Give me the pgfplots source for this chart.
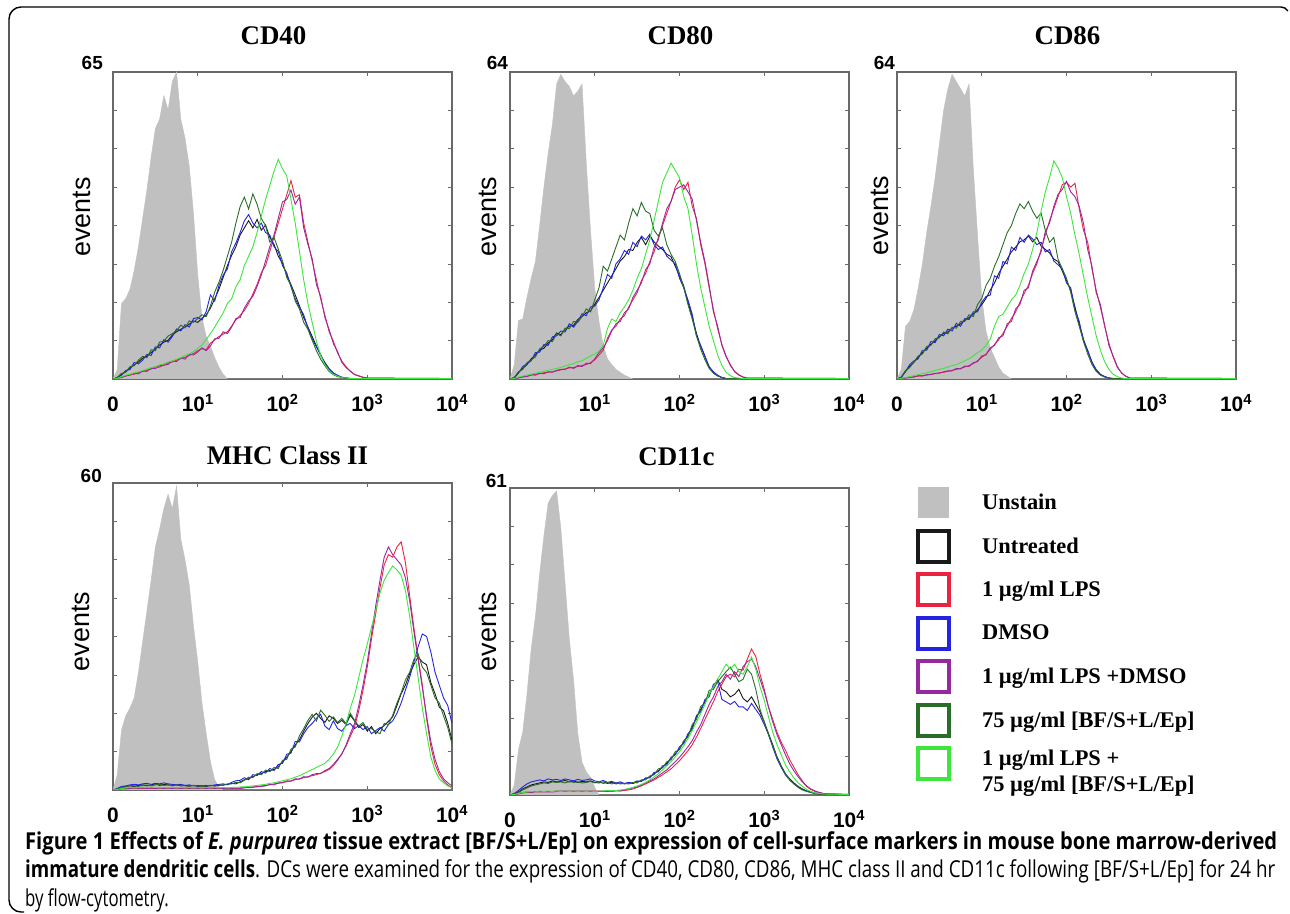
\documentclass[border=0pt]{standalone}
\usepackage{fontspec}
\usepackage{graphicx}
\usepackage{pgfplots}
\usepackage{pgfplotstable}
\pgfplotsset{compat=1.18}
\usetikzlibrary{calc}
\setmainfont{Liberation Sans}
\newfontfamily\lserif{Liberation Serif}
\newfontfamily\capfont{Open Sans}[FakeStretch=0.72]

\definecolor{unst}{RGB}{192,192,192}
\definecolor{boxgray}{RGB}{105,105,105}
\definecolor{cK}{RGB}{25,25,25}
\definecolor{cR}{RGB}{235,35,65}
\definecolor{cB}{RGB}{35,35,225}
\definecolor{cP}{RGB}{150,40,160}
\definecolor{cG}{RGB}{40,110,40}
\definecolor{cL}{RGB}{60,230,60}

\newcommand\titfont{\lserif\bfseries\fontsize{27}{30}\selectfont}
\newcommand\ticfont{\bfseries\fontsize{21}{24}\selectfont}
\newcommand\maxfont{\bfseries\fontsize{19}{22}\selectfont}
\newcommand\evfont{\fontsize{27}{30}\selectfont}
\newcommand\legfont{\lserif\bfseries\fontsize{22.5}{26}\selectfont}

% histogram counts per channel (x = decades of fluorescence, 0..4)
\pgfplotstableread{
x U K R B P G L
0.00 0 0 0 0 0 0 0
0.05 2 0.3 0.1 0.2 0.2 0.3 0.1
0.10 16 1.0 0.4 0.8 0.3 1.2 0.5
0.15 17 1.5 0.6 1.8 0.7 1.4 0.8
0.20 19 2.4 0.9 2.0 0.8 2.6 1.0
0.25 23 3.0 1.0 3.5 1.2 2.8 1.3
0.30 28 3.6 1.4 3.2 1.1 4.0 1.5
0.35 34 4.4 1.6 4.0 1.7 4.8 1.8
0.40 40 4.8 1.9 5.2 1.6 4.5 2.1
0.45 47 5.6 2.1 5.0 2.3 6.2 2.4
0.50 53 6.3 2.6 6.8 2.2 6.0 2.6
0.55 55 7.2 2.5 6.6 2.8 7.8 3.0
0.60 60 7.8 3.0 8.3 2.9 8.0 3.2
0.65 57 8.2 3.4 7.8 3.1 9.1 3.6
0.70 63 9.3 3.6 9.0 3.8 9.6 3.8
0.75 65 10.0 4.0 10.6 3.7 10.2 4.2
0.80 55 10.5 4.3 10.2 4.5 11.4 4.5
0.85 51 11.0 4.6 11.5 4.2 10.8 5.0
0.90 45 11.6 5.0 11.0 5.2 12.3 5.3
0.95 35 12.3 5.4 12.8 5.1 12.0 5.8
1.00 22 12.0 6.0 13.0 5.7 12.8 6.5
1.05 13 12.8 6.4 12.5 6.6 13.6 7.2
1.10 9 13.6 6.2 14.3 6.0 13.2 8.4
1.15 7 15.0 7.6 17.8 7.0 15.5 9.6
1.20 4.5 17.0 8.3 16.5 8.5 18.4 11.0
1.25 2.5 19.0 9.0 19.8 8.6 20.5 12.5
1.30 1 21.5 9.5 22.0 10.0 23.0 14.0
1.35 0 24.0 10.0 23.3 9.6 26.0 16.0
1.40 0 26.2 11.2 27.0 11.0 29.0 17.0
1.45 0 28.0 12.5 28.8 12.8 33.0 19.5
1.50 0 30.5 13.5 31.0 13.0 36.5 21.0
1.55 0 32.0 14.5 33.5 15.0 38.5 24.0
1.60 0 33.5 16.0 34.8 16.5 36.0 26.0
1.65 0 32.0 18.0 33.0 17.5 39.2 28.0
1.70 0 33.8 20.0 32.0 19.6 37.0 31.0
1.75 0 31.5 22.5 33.0 22.0 34.0 34.5
1.80 0 32.6 24.0 31.0 25.0 32.5 38.0
1.85 0 30.0 27.0 30.5 28.0 29.0 41.0
1.90 0 28.5 30.0 28.0 30.5 30.0 44.0
1.95 0 26.0 33.0 27.0 34.0 27.5 46.5
2.00 0 24.5 36.0 24.0 37.5 25.0 44.5
2.05 0 22.0 39.0 22.5 38.0 21.5 43.0
2.10 0 20.0 42.0 19.5 40.0 19.8 38.0
2.15 0 17.8 38.5 17.0 37.0 16.5 33.0
2.20 0 15.5 39.0 15.2 38.5 14.8 27.0
2.25 0 13.0 33.0 13.6 32.0 12.0 21.0
2.30 0 11.0 29.0 10.8 28.5 10.5 16.0
2.35 0 9.0 25.0 8.5 25.5 8.2 12.0
2.40 0 7.0 21.0 6.8 20.0 6.0 8.0
2.45 0 5.0 17.0 5.2 17.5 4.2 5.0
2.50 0 3.5 13.5 3.2 13.0 2.8 3.0
2.55 0 2.2 10.0 2.0 10.5 1.6 1.8
2.60 0 1.3 8.0 1.2 7.5 0.9 1.0
2.65 0 0.7 5.5 0.8 5.8 0.5 0.6
2.70 0 0.4 3.8 0.3 3.5 0.3 0.3
2.75 0 0.2 2.6 0.2 2.4 0.2 0.2
2.80 0 0.1 1.6 0.1 1.7 0.1 0.1
2.85 0 0.1 1.0 0.1 0.9 0.1 0.1
2.90 0 0.1 0.6 0.1 0.7 0.1 0.1
2.95 0 0.1 0.4 0.1 0.3 0.1 0.1
3.00 0 0.1 0.2 0.1 0.2 0.1 0.1
4.00 0 0.1 0.1 0.1 0.1 0.1 0.1
}\tabCDforty

\pgfplotstableread{
x U K B G R P L
0.00 0 0 0 0 0 0 0
0.05 3 0.3 0.2 0.3 0.1 0.1 0.1
0.10 12.2 1.4 1.2 1.5 0.3 0.2 0.4
0.15 12.5 2.2 2.6 2.0 0.4 0.5 0.6
0.20 17 3.0 3.2 3.4 0.6 0.5 0.8
0.25 21 4.2 3.8 4.0 0.8 0.9 1.0
0.30 24.5 5.0 5.5 4.6 1.0 0.8 1.2
0.35 32 6.0 5.6 6.3 1.1 1.2 1.4
0.40 40 6.4 7.2 6.8 1.3 1.1 1.6
0.45 47 7.5 7.0 8.0 1.4 1.5 1.8
0.50 53 8.2 8.8 7.8 1.5 1.4 2.0
0.55 61.5 9.6 9.0 9.4 1.7 1.8 2.2
0.60 63.5 9.2 10.0 9.0 1.9 2.0 2.4
0.65 62 10.4 9.8 10.6 2.1 2.0 2.7
0.70 61 11.0 11.5 10.5 2.3 2.5 3.0
0.75 59 11.2 10.8 12.0 2.4 2.2 3.2
0.80 60 12.4 12.0 11.8 2.6 2.8 3.6
0.85 61.5 13.0 13.6 13.0 2.8 2.6 3.8
0.90 45 13.8 13.2 14.6 3.0 3.3 4.3
0.95 31 14.2 15.0 14.0 3.4 3.2 4.8
1.00 19 15.6 15.2 16.5 4.0 4.2 5.2
1.05 12 17.0 16.5 19.0 5.0 5.5 5.8
1.10 6.9 18.5 19.0 23.5 6.0 6.5 7.0
1.15 4.2 20.0 21.8 22.5 8.5 8.0 10.5
1.20 3 21.5 21.0 25.0 10.2 10.0 12.5
1.25 2 23.0 24.0 27.5 11.0 11.5 12.0
1.30 1.4 24.6 25.0 30.0 12.5 12.0 13.8
1.35 0.8 25.5 26.8 29.0 13.2 13.8 15.0
1.40 0.4 27.0 26.0 32.5 15.0 14.6 16.5
1.45 0 26.8 28.5 35.5 16.5 17.0 18.5
1.50 0 28.5 27.6 34.0 18.0 18.5 21.0
1.55 0 29.5 29.8 36.8 20.5 20.0 23.0
1.60 0 28.0 29.0 35.0 22.0 22.8 26.0
1.65 0 29.8 30.2 34.5 24.5 24.0 29.0
1.70 0 28.6 28.0 31.0 26.5 27.5 33.0
1.75 0 27.7 27.0 29.8 29.5 29.0 37.0
1.80 0 27.0 27.5 31.5 32.0 32.5 41.0
1.85 0 26.0 25.6 28.0 34.5 35.5 43.0
1.90 0 25.5 24.8 26.0 37.0 37.0 45.0
1.95 0 23.5 24.0 24.5 40.0 39.5 43.5
2.00 0 21.5 21.0 22.0 41.5 40.0 42.0
2.05 0 19.4 19.0 19.0 39.5 40.5 38.0
2.10 0 16.0 16.5 15.5 41.0 39.0 35.5
2.15 0 13.0 13.5 12.5 36.0 37.5 30.0
2.20 0 9.5 9.0 9.0 33.5 33.0 24.0
2.25 0 6.8 7.0 6.2 28.0 28.5 19.0
2.30 0 4.6 4.8 4.0 24.0 24.5 15.0
2.35 0 2.6 2.4 2.2 19.0 19.5 11.0
2.40 0 1.4 1.5 1.2 14.5 14.0 8.0
2.45 0 0.7 0.8 0.6 10.5 11.0 5.0
2.50 0 0.3 0.3 0.3 7.2 7.0 2.8
2.55 0 0.1 0.1 0.1 4.8 4.6 1.4
2.60 0 0.1 0.1 0.1 2.8 3.0 0.7
2.65 0 0.1 0.1 0.1 1.6 1.5 0.3
2.70 0 0.1 0.1 0.1 0.9 0.8 0.2
2.75 0 0.1 0.1 0.1 0.4 0.4 0.1
2.80 0 0.1 0.1 0.1 0.2 0.2 0.1
4.00 0 0.1 0.1 0.1 0.1 0.1 0.1
}\tabCDeighty

\pgfplotstableread{
x U K B G R P L
0.00 0 0 0 0 0 0 0
0.05 2 0.4 0.3 0.4 0.1 0.1 0.1
0.10 11 1.7 1.5 1.6 0.2 0.2 0.3
0.15 12 2.6 3.0 2.4 0.3 0.4 0.5
0.20 14.5 3.5 3.8 3.6 0.5 0.4 0.7
0.25 19 4.5 4.2 4.8 0.6 0.7 0.9
0.30 24 5.5 6.0 5.2 0.7 0.6 1.1
0.35 30.5 6.4 6.0 6.8 0.8 0.9 1.3
0.40 36 7.2 7.8 7.0 1.0 0.9 1.5
0.45 42 8.0 7.6 8.4 1.1 1.2 1.8
0.50 49 8.8 9.3 8.6 1.3 1.2 2.0
0.55 56 9.5 9.0 9.8 1.4 1.5 2.2
0.60 60.5 9.8 10.4 9.4 1.6 1.7 2.5
0.65 63.5 10.6 10.0 10.8 1.8 1.7 2.8
0.70 62 11.0 11.6 10.6 2.0 2.2 3.0
0.75 60.5 11.5 11.0 12.0 2.2 2.1 3.4
0.80 59 12.2 12.6 12.0 2.5 2.7 3.8
0.85 61.5 12.8 12.4 13.4 2.8 2.6 4.2
0.90 44 13.5 14.0 13.0 3.2 3.4 4.8
0.95 30 14.4 14.0 15.5 3.8 3.6 5.5
1.00 17 15.5 16.0 16.8 4.5 4.8 6.0
1.05 10 16.8 17.2 19.5 5.2 5.0 7.0
1.10 6.5 18.5 17.5 21.0 6.2 6.5 8.3
1.15 4.5 20.0 21.5 23.5 7.2 7.0 11.0
1.20 2.5 22.0 21.0 25.5 8.2 8.6 13.0
1.25 1.2 23.5 24.5 28.0 9.5 9.0 13.5
1.30 0.6 25.0 24.0 30.5 11.0 11.5 15.0
1.35 0 26.5 27.5 32.0 12.6 12.0 16.5
1.40 0 27.5 26.8 34.5 14.0 14.6 17.5
1.45 0 28.6 29.5 36.5 16.0 15.5 19.5
1.50 0 29.0 28.5 35.5 17.8 18.5 22.0
1.55 0 29.8 30.0 37.0 19.5 19.0 24.0
1.60 0 28.6 29.2 35.0 22.0 22.5 27.0
1.65 0 29.5 28.0 33.5 24.0 24.5 30.5
1.70 0 27.7 28.5 34.6 27.0 26.5 35.0
1.75 0 27.0 26.5 31.0 30.0 30.8 39.0
1.80 0 26.3 27.0 28.5 33.0 32.5 42.0
1.85 0 25.0 24.6 29.5 35.5 36.0 45.5
1.90 0 24.5 23.8 25.0 38.0 38.5 44.0
1.95 0 22.5 23.0 23.0 40.5 39.5 42.0
2.00 0 20.5 20.0 21.0 41.0 41.2 38.0
2.05 0 18.5 19.0 18.0 40.0 39.0 34.5
2.10 0 15.0 14.5 14.0 40.8 38.0 30.0
2.15 0 11.5 12.0 11.0 35.5 36.0 26.0
2.20 0 8.3 8.0 7.8 31.0 32.5 21.5
2.25 0 5.8 6.0 5.2 28.5 27.0 17.0
2.30 0 3.6 3.4 3.0 23.0 23.5 13.0
2.35 0 1.8 2.0 1.6 18.5 18.0 9.0
2.40 0 0.9 1.0 0.8 15.0 15.5 6.0
2.45 0 0.5 0.5 0.4 11.0 11.2 3.6
2.50 0 0.2 0.2 0.2 7.5 7.0 2.0
2.55 0 0.1 0.1 0.1 4.6 4.8 1.0
2.60 0 0.1 0.1 0.1 2.4 2.6 0.5
2.65 0 0.1 0.1 0.1 1.3 1.2 0.2
2.70 0 0.1 0.1 0.1 0.5 0.6 0.1
2.75 0 0.1 0.1 0.1 0.2 0.2 0.1
4.00 0 0.1 0.1 0.1 0.1 0.1 0.1
}\tabCDeightysix

\pgfplotstableread{
x U K B G R P L
0.00 0 0 0 0 0 0 0
0.05 3 0.2 0.3 0.2 0.1 0.1 0.1
0.10 11.7 0.5 0.7 0.5 0.2 0.3 0.3
0.15 14.5 0.7 0.8 0.6 0.3 0.2 0.4
0.20 16 0.8 1.0 0.9 0.4 0.3 0.5
0.25 18 0.7 1.1 0.8 0.3 0.4 0.4
0.30 23 0.9 1.0 0.7 0.4 0.3 0.5
0.35 29 1.0 1.2 0.9 0.3 0.4 0.6
0.40 35 0.8 1.3 1.0 0.4 0.3 0.5
0.45 41 1.0 1.1 0.8 0.3 0.4 0.6
0.50 47.5 1.2 1.3 1.0 0.4 0.3 0.5
0.55 51 0.9 1.2 1.1 0.3 0.4 0.4
0.60 55 1.1 1.4 0.9 0.4 0.3 0.5
0.65 57.8 1.0 1.2 1.0 0.3 0.4 0.4
0.70 55 0.9 1.1 0.8 0.4 0.3 0.5
0.75 59.4 1.0 1.0 1.0 0.3 0.4 0.4
0.80 49 0.8 1.1 0.9 0.4 0.3 0.5
0.85 45 0.9 0.9 0.8 0.3 0.4 0.4
0.90 40 0.8 1.0 0.7 0.4 0.3 0.5
0.95 32 0.9 0.8 0.9 0.3 0.4 0.4
1.00 25 0.7 0.9 0.8 0.4 0.3 0.5
1.05 17 0.8 0.8 0.7 0.3 0.4 0.4
1.10 11 0.7 0.9 0.8 0.4 0.3 0.5
1.15 5.5 0.9 0.8 0.9 0.3 0.4 0.4
1.20 2 0.8 1.0 0.8 0.4 0.3 0.5
1.25 0.6 0.9 1.1 1.0 0.3 0.4 0.4
1.30 0 1.0 1.2 0.9 0.4 0.3 0.5
1.35 0 1.1 1.0 1.2 0.3 0.4 0.4
1.40 0 1.3 1.5 1.2 0.4 0.3 0.5
1.45 0 1.2 1.8 1.5 0.3 0.4 0.5
1.50 0 1.6 1.9 1.4 0.4 0.3 0.6
1.55 0 2.0 2.4 1.9 0.5 0.4 0.6
1.60 0 2.2 2.0 2.5 0.6 0.5 0.7
1.65 0 2.6 3.0 2.4 0.5 0.6 0.8
1.70 0 3.0 2.8 3.2 0.7 0.6 0.9
1.75 0 3.2 3.6 3.0 0.8 0.7 1.0
1.80 0 3.6 3.3 3.9 0.9 0.8 1.1
1.85 0 3.8 4.2 3.6 1.0 1.1 1.3
1.90 0 4.0 3.8 4.4 1.2 1.0 1.4
1.95 0 4.6 5.0 4.2 1.3 1.4 1.6
2.00 0 5.5 5.2 5.8 1.5 1.4 1.8
2.05 0 6.4 7.0 6.0 1.6 1.8 2.0
2.10 0 7.5 7.2 8.0 1.8 1.7 2.2
2.15 0 8.8 9.5 8.4 2.0 2.2 2.5
2.20 0 9.8 9.4 10.6 2.2 2.1 2.8
2.25 0 11.5 11.0 12.0 2.4 2.6 3.2
2.30 0 13.0 12.2 13.6 2.6 2.5 3.6
2.35 0 14.2 13.0 14.8 2.8 3.0 4.0
2.40 0 15.0 14.0 13.5 3.0 3.2 4.4
2.45 0 14.0 14.8 15.6 3.3 3.2 4.8
2.50 0 13.2 12.5 14.6 3.6 3.8 5.2
2.55 0 14.5 11.8 13.4 4.0 4.2 6.0
2.60 0 14.0 13.5 14.3 4.8 5.0 7.0
2.65 0 13.0 12.0 13.2 5.8 6.0 8.4
2.70 0 13.6 11.5 14.0 7.1 7.0 10.5
2.75 0 12.8 12.6 13.0 8.6 8.8 13.0
2.80 0 14.6 13.0 15.0 10.5 11.0 16.0
2.85 0 13.5 12.0 13.6 12.3 13.0 18.5
2.90 0 12.2 12.6 12.5 15.5 16.5 22.0
2.95 0 12.8 11.8 13.2 19.5 20.5 25.5
3.00 0 11.5 12.4 11.8 24.0 25.0 28.5
3.05 0 12.4 11.0 12.0 29.5 30.5 31.8
3.10 0 11.0 11.6 11.4 34.5 36.0 35.0
3.15 0 12.0 12.2 11.0 39.5 41.0 38.5
3.20 0 12.6 11.5 13.0 44.0 45.5 41.0
3.25 0 13.4 12.8 12.8 46.0 47.5 42.5
3.30 0 14.3 13.5 14.6 45.5 46.0 43.8
3.35 0 16.5 15.0 17.0 47.5 45.0 43.0
3.40 0 18.8 17.0 19.0 48.5 44.0 42.0
3.45 0 20.5 19.5 21.5 44.5 41.5 39.0
3.50 0 22.7 22.0 23.0 38.0 37.0 34.0
3.55 0 24.5 25.0 25.5 31.8 31.0 27.9
3.60 0 26.0 28.0 26.6 26.0 25.5 22.0
3.65 0 25.0 30.5 24.0 20.5 20.0 16.0
3.70 0 24.5 30.0 23.0 14.0 14.5 11.0
3.75 0 21.0 27.0 20.5 8.5 9.5 6.5
3.80 0 18.8 23.0 18.0 5.0 6.0 3.8
3.85 0 16.2 20.5 17.0 3.0 3.6 2.2
3.90 0 15.5 18.0 14.5 1.8 2.2 1.4
3.95 0 13.0 16.5 12.2 1.0 1.4 0.8
4.00 0 9.7 13.0 9.0 0.4 0.8 0.4
}\tabMHC

\pgfplotstableread{
x U K B G R P L
0.00 0 0 0 0 0 0 0
0.05 2 0.2 0.3 0.2 0.1 0.1 0.1
0.10 9 0.6 0.9 0.5 0.2 0.3 0.3
0.15 12.5 1.2 1.6 1.0 0.4 0.5 0.5
0.20 20 1.6 2.2 1.4 0.5 0.6 0.6
0.25 29 2.0 2.6 1.8 0.6 0.5 0.7
0.30 35.5 2.2 2.8 2.0 0.7 0.6 0.6
0.35 44 2.4 3.0 2.2 0.6 0.7 0.8
0.40 51.5 2.6 2.8 2.4 0.7 0.6 0.7
0.45 58 2.5 3.2 2.3 0.6 0.7 0.8
0.50 59.5 2.8 3.0 2.6 0.7 0.6 0.7
0.55 60.4 2.6 3.1 2.5 0.8 0.7 0.8
0.60 53 2.7 2.9 2.6 0.7 0.8 0.7
0.65 42 2.9 3.2 2.4 0.8 0.7 0.8
0.70 31 2.6 3.0 2.7 0.7 0.8 0.7
0.75 22.8 2.8 2.8 2.5 0.8 0.7 0.8
0.80 12.2 2.5 3.1 2.6 0.7 0.8 0.7
0.85 6.5 2.7 2.9 2.4 0.8 0.7 0.8
0.90 4.6 2.6 3.0 2.5 0.7 0.8 0.7
0.95 3.5 2.8 3.2 2.7 0.8 0.7 0.8
1.00 1.5 2.5 2.8 2.4 0.7 0.8 0.7
1.05 0 2.4 2.6 2.6 0.8 0.7 0.8
1.10 0 2.6 2.9 2.3 0.7 0.8 0.8
1.15 0 2.3 2.5 2.5 0.8 0.7 0.9
1.20 0 2.5 2.7 2.2 0.7 0.8 0.8
1.25 0 2.2 2.4 2.4 0.8 0.9 0.9
1.30 0 2.4 2.6 2.2 0.8 0.8 1.0
1.35 0 2.2 2.3 2.3 0.9 1.0 1.1
1.40 0 2.4 2.5 2.2 1.0 1.2 1.3
1.45 0 2.3 2.4 2.5 1.2 1.4 1.5
1.50 0 2.6 2.8 2.4 1.5 1.6 1.8
1.55 0 2.8 2.7 3.0 1.8 2.0 2.1
1.60 0 3.2 3.4 3.0 2.2 2.4 2.5
1.65 0 3.6 3.4 3.8 2.6 2.8 3.0
1.70 0 4.2 4.5 4.0 3.0 3.2 3.6
1.75 0 4.8 4.6 5.2 3.5 3.8 4.2
1.80 0 5.5 5.8 5.4 4.0 4.4 5.0
1.85 0 6.3 6.0 6.6 4.6 5.0 5.8
1.90 0 7.2 7.5 7.0 5.2 5.8 6.6
1.95 0 8.2 8.0 8.6 6.0 6.6 7.6
2.00 0 9.2 9.6 9.0 6.8 7.5 8.6
2.05 0 10.5 10.2 10.8 7.8 8.5 9.8
2.10 0 11.8 12.2 11.5 8.8 9.6 11.2
2.15 0 13.5 13.0 14.0 10.0 10.8 12.8
2.20 0 15.5 15.8 15.0 11.5 12.5 14.5
2.25 0 17.0 16.5 17.6 13.2 14.0 16.2
2.30 0 18.5 19.0 18.2 15.0 16.0 18.0
2.35 0 20.0 19.5 20.8 16.8 18.0 20.0
2.40 0 21.5 22.0 21.0 18.5 19.5 21.5
2.45 0 23.0 22.5 22.5 20.5 21.5 23.0
2.50 0 21.0 19.0 23.5 22.0 22.5 24.5
2.55 0 20.5 18.5 24.5 23.5 24.0 26.0
2.60 0 19.5 18.0 25.4 24.0 23.0 25.0
2.65 0 20.0 18.6 24.0 23.5 24.5 26.0
2.70 0 21.0 17.5 22.5 25.0 23.5 24.5
2.75 0 19.2 17.5 23.0 24.8 25.5 24.0
2.80 0 18.5 16.8 25.0 27.0 26.5 25.5
2.85 0 19.5 18.2 24.0 29.0 27.0 27.4
2.90 0 18.0 17.0 21.0 27.5 25.5 25.0
2.95 0 16.5 15.8 17.0 24.0 23.0 21.5
3.00 0 14.5 14.0 14.5 21.0 20.5 18.8
3.05 0 12.2 12.0 12.0 17.5 17.5 15.5
3.10 0 10.0 9.5 9.8 15.0 14.5 12.5
3.15 0 7.6 7.2 7.5 12.5 12.0 10.0
3.20 0 5.8 5.5 5.6 10.5 10.0 8.0
3.25 0 4.2 4.0 4.2 8.9 8.0 6.0
3.30 0 3.2 3.0 3.0 7.0 6.2 4.6
3.35 0 2.4 2.2 2.2 5.5 4.8 3.4
3.40 0 1.7 1.6 1.5 4.0 3.6 2.4
3.45 0 1.2 1.1 1.0 2.8 2.6 1.7
3.50 0 0.8 0.8 0.7 1.7 1.8 1.1
3.55 0 0.5 0.6 0.5 1.1 1.2 0.7
3.60 0 0.3 0.4 0.3 0.7 0.8 0.4
3.65 0 0.2 0.3 0.2 0.5 0.5 0.3
3.70 0 0.1 0.1 0.1 0.3 0.3 0.2
4.00 0 0.1 0.1 0.1 0.1 0.1 0.1
}\tabCDelevenc

\pgfplotsset{
  facs/.style={
    scale only axis, width=339bp, height=307bp,
    xmin=0, xmax=4, ymin=0,
    clip mode=individual,
    axis line style={draw=boxgray, line width=1.3bp},
    tick align=inside,
    major tick length=4bp,
    tick style={draw=boxgray, line width=0.6bp},
    xtick={0,1,2,3,4},
    xticklabels={0,10\textsuperscript{1},10\textsuperscript{2},10\textsuperscript{3},10\textsuperscript{4}},
    xticklabel style={font=\ticfont, anchor=base, yshift=-33bp},
    yticklabels={},
  },
  ufill/.style={fill=unst, draw=unst, line width=0.4bp,
    legend image code/.code={\fill[unst] (0.5bp,-15bp) rectangle (30.5bp,15bp);
      \path[draw=none, fill=none] (-2bp,-17.5bp) rectangle (64bp,17.5bp);}},
  hline/.style={draw=#1, line width=0.9bp,
    legend image code/.code={\draw[line width=4bp] (0bp,-15.5bp) rectangle (31bp,15.5bp);
      \path[draw=none, fill=none] (-2bp,-17.5bp) rectangle (64bp,17.5bp);}},
}

\newcommand\curves[1]{%
  \addplot[ufill] table[x=x,y=U]{#1} \closedcycle;
  \addplot[hline=cK] table[x=x,y=K]{#1};
  \addplot[hline=cR] table[x=x,y=R]{#1};
  \addplot[hline=cB] table[x=x,y=B]{#1};
  \addplot[hline=cP] table[x=x,y=P]{#1};
  \addplot[hline=cG] table[x=x,y=G]{#1};
  \addplot[hline=cL] table[x=x,y=L]{#1};
}
% #1 title, #2 title dx, #3 title dy, #4 max label, #5 max dx, #6 max dy, #7 events dx, #8 events dy
\newcommand\decor[8]{%
  \node[font=\titfont, anchor=base] at ($(rel axis cs:0.5,1)+(#2bp,#3bp)$) {#1};
  \node[font=\maxfont, anchor=base east, inner sep=0pt] at ($(rel axis cs:0,1)+(#5bp,#6bp)$) {#4};
  \node[font=\evfont, rotate=90] at ($(rel axis cs:0,0.5)+(#7bp,#8bp)$) {events};
}

\begin{document}
\begin{tikzpicture}
\useasboundingbox (0,0) rectangle (1290bp,914bp);
\draw[line width=1.4bp] (1281bp,907bp) -- (21bp,907bp)
  arc[start angle=90, end angle=180, radius=12bp] -- (9bp,14bp)
  arc[start angle=180, end angle=270, radius=12bp] -- (24bp,2bp);
\draw[line width=1.4bp] (1281bp,907bp) arc[start angle=90, end angle=30, radius=8bp];

\begin{axis}[facs, at={(113bp,535bp)}, ymax=65,
  ytick={8.125,16.25,24.375,32.5,40.625,48.75,56.875}]
\curves{\tabCDforty}
\decor{CD40}{-9}{27}{65}{-10}{2}{-31}{8.5}
\end{axis}

\begin{axis}[facs, at={(510bp,535bp)}, ymax=64,
  ytick={8,16,24,32,40,48,56}]
\curves{\tabCDeighty}
\decor{CD80}{1}{27}{64}{-2}{2}{-22.5}{9}
\end{axis}

\begin{axis}[facs, at={(897bp,535bp)}, ymax=64,
  ytick={8,16,24,32,40,48,56}]
\curves{\tabCDeightysix}
\decor{CD86}{1}{27}{64}{-2}{2}{-17}{10}
\end{axis}

\begin{axis}[facs, at={(113bp,124bp)}, ymax=60,
  ytick={7.5,15,22.5,30,37.5,45,52.5}]
\curves{\tabMHC}
\decor{MHC Class II}{5}{18}{60}{-11}{0}{-32.5}{5}
\end{axis}

\begin{axis}[facs, at={(510bp,119bp)}, ymax=61,
  ytick={7.625,15.25,22.875,30.5,38.125,45.75,53.375},
  legend cell align=left,
  legend style={at={(1.1976,1.0098)}, anchor=north west, draw=none, fill=none,
    inner sep=0pt, row sep=8.5bp, column sep=0pt, font=\legfont,
    nodes={inner sep=0pt}}]
\curves{\tabCDelevenc}
\decor{CD11c}{-3}{23}{61}{-3}{1}{-22.5}{10}
\legend{Unstain, Untreated, 1 µg/ml LPS, DMSO, 1 µg/ml LPS +DMSO,
  75 µg/ml [BF/S+L/Ep],
  {\begin{tabular}{@{}l@{}}1 µg/ml LPS +\\75 µg/ml [BF/S+L/Ep]\end{tabular}}}
\end{axis}

\node[anchor=base west, inner sep=0pt] at (25bp,64bp) {\capfont\fontsize{23.4}{28}\selectfont
  \resizebox{1252bp}{\height}{\bfseries Figure 1 Effects of \textit{E. purpurea} tissue extract [BF/S+L/Ep] on expression of cell-surface markers in mouse bone marrow-derived}};
\node[anchor=base west, inner sep=0pt] at (25bp,36bp) {\capfont\fontsize{23.4}{28}\selectfont
  \resizebox{1250bp}{\height}{{\bfseries immature dendritic cells}. DCs were examined for the expression of CD40, CD80, CD86, MHC class II and CD11c following [BF/S+L/Ep] for 24 hr}};
\node[anchor=base west, inner sep=0pt] at (25bp,8bp) {\capfont\fontsize{23.4}{28}\selectfont by flow-cytometry.};
\end{tikzpicture}
\end{document}
